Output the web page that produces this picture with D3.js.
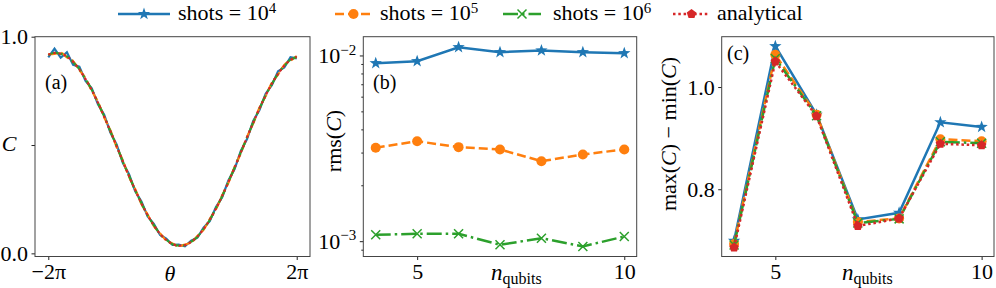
<!DOCTYPE html>
<html>
<head>
<meta charset="utf-8">
<script src="https://cdn.jsdelivr.net/npm/d3@7"></script>
<style>
  body { margin: 0; background: #fff; }
  svg, svg text { font-family: "Liberation Serif", "DejaVu Serif", serif; }
</style>
</head>
<body>
<svg width="996" height="288"></svg>
<script>
// ---- data ----
// theta in units of pi
const thetaPi = [-2.0, -1.9, -1.8, -1.7, -1.6, -1.5, -1.4, -1.3, -1.2, -1.1, -1.0,
  -0.9, -0.8, -0.7, -0.6, -0.5, -0.4, -0.3, -0.2, -0.1, 0.0,
  0.1, 0.2, 0.3, 0.4, 0.5, 0.6, 0.7, 0.8, 0.9, 1.0,
  1.1, 1.2, 1.3, 1.4, 1.5, 1.6, 1.7, 1.8, 1.9, 2.0];

const cShots4 = [0.905, 0.945, 0.903, 0.928, 0.870, 0.862, 0.796, 0.762, 0.688, 0.640, 0.557,
  0.503, 0.418, 0.365, 0.286, 0.239, 0.170, 0.136, 0.085, 0.068, 0.039,
  0.040, 0.033, 0.059, 0.072, 0.119, 0.149, 0.214, 0.259, 0.337, 0.389,
  0.473, 0.528, 0.611, 0.662, 0.737, 0.776, 0.840, 0.858, 0.905, 0.900];
const cShots5 = [0.920, 0.921, 0.926, 0.905, 0.887, 0.846, 0.808, 0.750, 0.699, 0.628, 0.568,
  0.491, 0.429, 0.353, 0.296, 0.228, 0.179, 0.126, 0.093, 0.059, 0.046,
  0.033, 0.041, 0.050, 0.080, 0.109, 0.158, 0.204, 0.268, 0.326, 0.399,
  0.462, 0.538, 0.600, 0.672, 0.726, 0.787, 0.825, 0.870, 0.889, 0.910];
const cShots6 = [0.915, 0.926, 0.921, 0.909, 0.882, 0.850, 0.803, 0.755, 0.694, 0.632, 0.563,
  0.496, 0.424, 0.358, 0.291, 0.232, 0.175, 0.130, 0.089, 0.063, 0.042,
  0.036, 0.037, 0.054, 0.076, 0.113, 0.154, 0.208, 0.264, 0.330, 0.395,
  0.466, 0.534, 0.604, 0.668, 0.730, 0.782, 0.830, 0.865, 0.894, 0.906];
const cAnalytical = [0.917, 0.925, 0.922, 0.908, 0.884, 0.849, 0.804, 0.754, 0.695, 0.631, 0.564,
  0.495, 0.425, 0.357, 0.292, 0.231, 0.176, 0.129, 0.090, 0.062, 0.043,
  0.035, 0.038, 0.053, 0.077, 0.112, 0.155, 0.207, 0.265, 0.329, 0.396,
  0.465, 0.535, 0.603, 0.669, 0.729, 0.783, 0.829, 0.866, 0.893, 0.907];

const nQubits = [4, 5, 6, 7, 8, 9, 10];

const rms4 = [0.00909, 0.00932, 0.01108, 0.01042, 0.01064, 0.01042, 0.01029];
const rms5 = [0.003184, 0.003455, 0.003209, 0.003119, 0.002696, 0.002929, 0.003119];
const rms6 = [0.001083, 0.001096, 0.001096, 0.000956, 0.001038, 0.000937, 0.00106];

const range4 = [0.699, 1.080, 0.946, 0.741, 0.754, 0.931, 0.922];
const range5 = [0.693, 1.063, 0.946, 0.736, 0.743, 0.898, 0.894];
const range6 = [0.691, 1.056, 0.944, 0.734, 0.742, 0.893, 0.890];
const rangeAn = [0.686, 1.050, 0.943, 0.728, 0.743, 0.889, 0.886];

const legendLabels = [["shots = 10", "4"], ["shots = 10", "5"], ["shots = 10", "6"], ["analytical", ""]];

// ---- styles ----
const FONT = '"Liberation Serif", "DejaVu Serif", serif';
const styles = [
  { color: "#1f77b4", dash: null, marker: "star" },
  { color: "#ff7f0e", dash: "9,4", marker: "circle" },
  { color: "#2ca02c", dash: "15,4,2.5,4", marker: "x" },
  { color: "#d62728", dash: "2.5,2.8", marker: "pentagon" },
];

const svg = d3.select("svg").attr("font-family", FONT);
const top_ = 36.7, bottom = 256.5;
const panels = {
  a: { left: 35, right: 310 },
  b: { left: 363.3, right: 636.7 },
  c: { left: 721.7, right: 994 },
};

const drawMarker = (g, type, cx, cy, color) => {
  if (type === "circle") {
    g.append("circle").attr("cx", cx).attr("cy", cy).attr("r", 5).attr("fill", color);
  } else if (type === "star") {
    const pts = d3.range(10).map((k) => {
      const r = k % 2 === 0 ? 6.5 : 2.6;
      const a = -Math.PI / 2 + (k * Math.PI) / 5;
      return [cx + r * Math.cos(a), cy + r * Math.sin(a)];
    });
    g.append("polygon").attr("points", pts.join(" ")).attr("fill", color);
  } else if (type === "pentagon") {
    const pts = d3.range(5).map((k) => {
      const a = -Math.PI / 2 + (k * 2 * Math.PI) / 5;
      return [cx + 5 * Math.cos(a), cy + 5 * Math.sin(a)];
    });
    g.append("polygon").attr("points", pts.join(" ")).attr("fill", color);
  } else if (type === "x") {
    const s = 4.5;
    g.append("path")
      .attr("d", `M${cx - s},${cy - s}L${cx + s},${cy + s}M${cx - s},${cy + s}L${cx + s},${cy - s}`)
      .attr("stroke", color).attr("stroke-width", 1.5).attr("fill", "none");
  }
};

const styleAxis = (g) => {
  g.attr("font-family", FONT).attr("font-size", 22);
  g.select(".domain").remove();
  g.selectAll(".tick line").attr("stroke", "#222").attr("stroke-width", 1);
  g.selectAll(".tick text").attr("fill", "#000");
};

const frame = (p) => {
  svg.append("rect")
    .attr("x", p.left).attr("y", top_)
    .attr("width", p.right - p.left).attr("height", bottom - top_)
    .attr("fill", "none").attr("stroke", "#444").attr("stroke-width", 1);
};

// ---- panel (a) ----
const xa = d3.scaleLinear().domain([-2.214, 2.214]).range([panels.a.left, panels.a.right]);
const ya = d3.scaleLinear().domain([-0.0145, 1.0]).range([bottom, top_]);

[cShots4, cShots5, cShots6, cAnalytical].forEach((vals, i) => {
  const line = d3.line()
    .x((d, j) => xa(thetaPi[j]))
    .y((d) => ya(d))
    .curve(i === 0 ? d3.curveLinear : d3.curveMonotoneX);
  svg.append("path")
    .attr("d", line(vals))
    .attr("fill", "none")
    .attr("stroke", styles[i].color)
    .attr("stroke-width", 2.2)
    .attr("stroke-dasharray", styles[i].dash);
});

svg.append("g")
  .attr("transform", `translate(0,${bottom})`)
  .call(d3.axisBottom(xa).tickValues([-2, 2]).tickSize(3.5).tickPadding(3.5)
    .tickFormat((d) => (d < 0 ? "−2π" : "2π")))
  .call(styleAxis);
svg.append("g")
  .attr("transform", `translate(${panels.a.left},0)`)
  .call(d3.axisLeft(ya).tickValues([0, 0.5, 1]).tickSize(3.5).tickPadding(3.5)
    .tickFormat((d) => (d === 0.5 ? "" : d3.format(".1f")(d))))
  .call(styleAxis);
frame(panels.a);

svg.append("text").attr("x", 9).attr("y", 151).attr("text-anchor", "middle")
  .style("font-size", "22px").style("font-style", "italic").text("C");
svg.append("text").attr("x", 170).attr("y", 281).attr("text-anchor", "middle")
  .style("font-size", "22px").style("font-style", "italic").text("θ");
svg.append("text").attr("x", 45).attr("y", 89).style("font-size", "20px").text("(a)");

// ---- panel (b) ----
const xb = d3.scaleLinear().domain([3.7, 10.3]).range([panels.b.left, panels.b.right]);
const yb = d3.scaleLog().domain([8.27e-4, 1.262e-2]).range([bottom, top_]);

[rms4, rms5, rms6].forEach((vals, i) => {
  const g = svg.append("g");
  g.append("path")
    .attr("d", d3.line().x((d, j) => xb(nQubits[j])).y((d) => yb(d))(vals))
    .attr("fill", "none")
    .attr("stroke", styles[i].color)
    .attr("stroke-width", 2.5)
    .attr("stroke-dasharray", styles[i].dash);
  vals.forEach((v, j) => drawMarker(g, styles[i].marker, xb(nQubits[j]), yb(v), styles[i].color));
});

svg.append("g")
  .attr("transform", `translate(0,${bottom})`)
  .call(d3.axisBottom(xb).tickValues([5, 10]).tickSize(3.5).tickPadding(3.5).tickFormat(d3.format("d")))
  .call(styleAxis);
svg.append("g")
  .attr("transform", `translate(${panels.b.left},0)`)
  .call(d3.axisLeft(yb).tickValues([9e-4, 2e-3, 3e-3, 4e-3, 5e-3, 6e-3, 7e-3, 8e-3, 9e-3])
    .tickSize(2).tickFormat(""))
  .call(styleAxis);
svg.append("g")
  .attr("transform", `translate(${panels.b.left},0)`)
  .call(d3.axisLeft(yb).tickValues([1e-3, 1e-2]).tickSize(3.5).tickPadding(3.5).tickFormat(""))
  .call(styleAxis)
  .selectAll(".tick text")
  .each(function (d) {
    const t = d3.select(this);
    t.append("tspan").text("10");
    t.append("tspan").attr("dy", "-0.55em").style("font-size", "15px")
      .text("−" + Math.round(-Math.log10(d)));
  });
frame(panels.b);

svg.append("text")
  .attr("transform", "translate(341,141) rotate(-90)")
  .attr("text-anchor", "middle").style("font-size", "22px")
  .call((t) => {
    t.append("tspan").text("rms(");
    t.append("tspan").style("font-style", "italic").text("C");
    t.append("tspan").text(")");
  });
const nLabel = (x0) => {
  svg.append("text").attr("x", x0).attr("y", 280).style("font-size", "23px")
    .call((t) => {
      t.append("tspan").style("font-style", "italic").text("n");
      t.append("tspan").attr("dy", 4).style("font-size", "16px").text("qubits");
    });
};
nLabel(491);
svg.append("text").attr("x", 373).attr("y", 89).style("font-size", "20px").text("(b)");

// ---- panel (c) ----
const xc = d3.scaleLinear().domain([3.7, 10.3]).range([panels.c.left, panels.c.right]);
const yc = d3.scaleLinear().domain([0.6684, 1.0985]).range([bottom, top_]);

[range4, range5, range6, rangeAn].forEach((vals, i) => {
  const g = svg.append("g");
  g.append("path")
    .attr("d", d3.line().x((d, j) => xc(nQubits[j])).y((d) => yc(d))(vals))
    .attr("fill", "none")
    .attr("stroke", styles[i].color)
    .attr("stroke-width", 2.5)
    .attr("stroke-dasharray", styles[i].dash);
  vals.forEach((v, j) => drawMarker(g, styles[i].marker, xc(nQubits[j]), yc(v), styles[i].color));
});

svg.append("g")
  .attr("transform", `translate(0,${bottom})`)
  .call(d3.axisBottom(xc).tickValues([5, 10]).tickSize(3.5).tickPadding(3.5).tickFormat(d3.format("d")))
  .call(styleAxis);
svg.append("g")
  .attr("transform", `translate(${panels.c.left},0)`)
  .call(d3.axisLeft(yc).tickValues([0.8, 1.0]).tickSize(3.5).tickPadding(3.5).tickFormat(d3.format(".1f")))
  .call(styleAxis);
frame(panels.c);

svg.append("text")
  .attr("transform", "translate(676,134) rotate(-90)")
  .attr("text-anchor", "middle").style("font-size", "22px")
  .call((t) => {
    t.append("tspan").text("max(");
    t.append("tspan").style("font-style", "italic").text("C");
    t.append("tspan").text(") − min(");
    t.append("tspan").style("font-style", "italic").text("C");
    t.append("tspan").text(")");
  });
nLabel(842);
svg.append("text").attr("x", 727).attr("y", 60).style("font-size", "20px").text("(c)");

// ---- legend ----
const legendPos = [
  { x0: 118, x1: 170, tx: 178 },
  { x0: 335, x1: 372, tx: 380 },
  { x0: 503, x1: 541, tx: 553 },
  { x0: 673, x1: 710, tx: 717 },
];
const ly = 14;
legendPos.forEach((p, i) => {
  const g = svg.append("g");
  g.append("line")
    .attr("x1", p.x0).attr("x2", p.x1).attr("y1", ly).attr("y2", ly)
    .attr("stroke", styles[i].color).attr("stroke-width", 2.5)
    .attr("stroke-dasharray", styles[i].dash);
  drawMarker(g, styles[i].marker, (p.x0 + p.x1) / 2, ly, styles[i].color);
  g.append("text").attr("x", p.tx).attr("y", 20).style("font-size", "22px")
    .call((t) => {
      t.append("tspan").text(legendLabels[i][0]);
      if (legendLabels[i][1]) {
        t.append("tspan").attr("dy", "-0.5em").style("font-size", "15px").text(legendLabels[i][1]);
      }
    });
});
</script>
</body>
</html>
